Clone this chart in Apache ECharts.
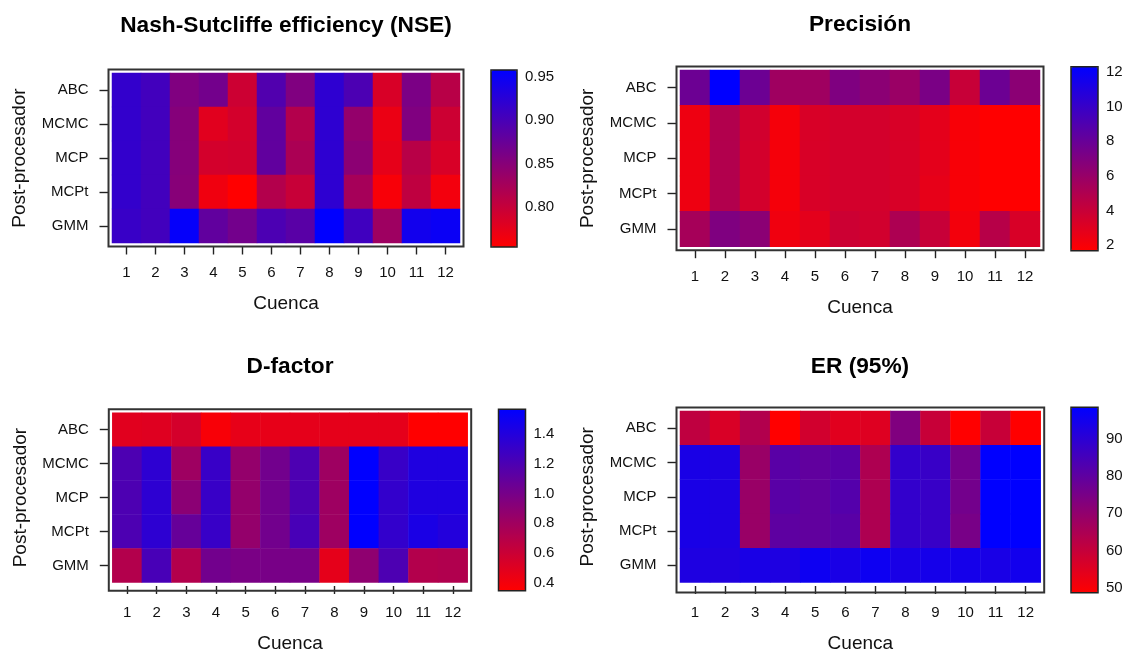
<!DOCTYPE html>
<html><head><meta charset="utf-8">
<script src="https://cdn.jsdelivr.net/npm/echarts@6/dist/echarts.min.js"></script>
<style>html,body{margin:0;padding:0;background:#fff}#c{width:1131px;height:654px}</style>
</head><body><div id="c"></div>
<script>
// ---------- DATA ----------
const cuencas = ['1','2','3','4','5','6','7','8','9','10','11','12'];
const postprocesadores = ['ABC','MCMC','MCP','MCPt','GMM'];
const titulos = ['Nash-Sutcliffe efficiency (NSE)', 'Precisión', 'D-factor', 'ER (95%)'];

// rows: ABC, MCMC, MCP, MCPt, GMM ; columns: cuenca 1..12
const nse = [
  [0.917,0.905,0.856,0.866,0.795,0.893,0.856,0.921,0.897,0.785,0.860,0.811],
  [0.917,0.905,0.852,0.778,0.789,0.880,0.815,0.921,0.840,0.770,0.856,0.795],
  [0.917,0.905,0.852,0.789,0.791,0.880,0.821,0.921,0.846,0.774,0.811,0.785],
  [0.917,0.905,0.850,0.766,0.754,0.815,0.799,0.921,0.825,0.760,0.805,0.764],
  [0.913,0.905,0.954,0.880,0.866,0.897,0.887,0.958,0.907,0.832,0.944,0.950]
];
const precision = [
  [7.8,12.29,7.8,5.7,5.7,7.0,6.5,5.9,7.2,4.0,7.8,6.5],
  [2.4,4.9,3.6,2.1,3.3,3.5,3.5,3.3,2.8,2.0,1.69,1.69],
  [2.4,4.9,3.5,2.1,3.3,3.5,3.5,3.3,2.8,2.0,1.69,1.69],
  [2.4,4.9,3.5,2.1,3.3,3.5,3.5,3.3,2.7,2.0,1.69,1.69],
  [5.4,7.0,6.5,2.3,2.8,3.8,3.6,5.1,4.0,2.2,4.7,3.3]
];
const dfactor = [
  [0.49,0.50,0.55,0.38,0.46,0.46,0.47,0.47,0.47,0.47,0.346,0.346],
  [1.20,1.35,0.81,1.30,0.86,1.02,1.20,0.81,1.566,1.30,1.42,1.42],
  [1.20,1.35,0.90,1.30,0.86,1.02,1.20,0.81,1.566,1.32,1.42,1.42],
  [1.20,1.35,1.08,1.30,0.86,1.02,1.22,0.81,1.566,1.32,1.44,1.40],
  [0.71,1.22,0.71,1.02,0.98,0.99,0.99,0.47,0.88,1.20,0.71,0.72]
];
const er = [
  [61.2,56.2,63.7,48.8,57.7,54.7,55.2,73.5,59.7,48.8,59.7,48.8],
  [93.4,92.4,68.6,81.0,79.5,81.0,64.6,88.4,87.4,76.0,98.3,98.3],
  [93.4,92.4,68.6,81.0,79.5,82.0,64.6,88.4,87.4,76.0,98.3,98.3],
  [93.4,92.4,68.6,80.0,79.5,81.0,64.6,88.4,87.4,75.0,98.3,98.3],
  [92.4,91.9,93.4,92.4,95.8,93.4,95.8,93.4,94.3,94.3,93.4,94.8]
];
const nseTicks = [0.80,0.85,0.90,0.95];
const precisionTicks = [2,4,6,8,10,12];
const dfactorTicks = [0.4,0.6,0.8,1.0,1.2,1.4];
const erTicks = [50,60,70,80,90];

// ---------- LAYOUT ----------
const FONT = 'Liberation Sans, Arial, sans-serif';
const TXT = '#111';
const HIDDEN_LINE = {show: true, lineStyle: {color: 'rgba(0,0,0,0)'}};
const panels = [
  {vals: nse, ticks: nseTicks, dec: 2, cells:{l:112,t:73,w:348,h:170}, pad:3.5, bar:{l:491,t:70,w:26,h:177}, title:{x:286,y:26}},
  {vals: precision, ticks: precisionTicks, dec: 0, cells:{l:680,t:70,w:360,h:176.7}, pad:3.5, bar:{l:1071,t:66.7,w:27,h:184}, title:{x:860,y:25}},
  {vals: dfactor, ticks: dfactorTicks, dec: 1, cells:{l:112.3,t:412.7,w:355.4,h:174.6}, pad:3.5, bar:{l:498.5,t:409.3,w:27,h:181.4}, title:{x:290,y:367}},
  {vals: er, ticks: erTicks, dec: 0, cells:{l:680,t:411,w:360.7,h:178}, pad:3.5, bar:{l:1071,t:407.3,w:27,h:185.4}, title:{x:860,y:367}}
];

const grid = [], xAxis = [], yAxis = [], series = [], visualMap = [], graphic = [];
panels.forEach((p, i) => {
  const flat = p.vals.flat();
  const vmin = Math.min(...flat), vmax = Math.max(...flat);
  const data = [];
  p.vals.forEach((row, r) => row.forEach((v, c) => data.push([c, r, v])));
  const gCell = 2 * i, gBar = 2 * i + 1;
  grid.push({left: p.cells.l, top: p.cells.t, width: p.cells.w, height: p.cells.h});
  grid.push({left: p.bar.l, top: p.bar.t, width: p.bar.w, height: p.bar.h});
  xAxis.push({gridIndex: gCell, type: 'category', data: cuencas, offset: p.pad,
    axisLine: HIDDEN_LINE,
    axisTick: {show: true, inside: false, alignWithLabel: true, length: 8, lineStyle: {color: '#222', width: 1.4}},
    axisLabel: {interval: 0, margin: 19, fontSize: 15, color: TXT, fontFamily: FONT},
    splitLine: {show: false},
    name: 'Cuenca', nameLocation: 'middle', nameGap: 48,
    nameTextStyle: {fontSize: 19, color: TXT, fontFamily: FONT}});
  yAxis.push({gridIndex: gCell, type: 'category', data: postprocesadores, inverse: true, offset: p.pad,
    axisLine: HIDDEN_LINE,
    axisTick: {show: true, inside: false, alignWithLabel: true, length: 9, lineStyle: {color: '#222', width: 1.4}},
    axisLabel: {interval: 0, margin: 20, fontSize: 15, color: TXT, fontFamily: FONT},
    splitLine: {show: false},
    name: 'Post-procesador', nameLocation: 'middle', nameGap: 79, nameRotate: 90,
    nameTextStyle: {fontSize: 19, color: TXT, fontFamily: FONT}});
  xAxis.push({gridIndex: gBar, type: 'value', show: false});
  yAxis.push({gridIndex: gBar, type: 'value', position: 'right', min: vmin, max: vmax,
    axisLine: HIDDEN_LINE, splitLine: {show: false},
    axisTick: {show: true, inside: false, length: 6, customValues: p.ticks, lineStyle: {color: '#222', width: 1.4}},
    axisLabel: {margin: 8, fontSize: 15, color: TXT, fontFamily: FONT, customValues: p.ticks,
      formatter: v => Number(v).toFixed(p.dec)}});
  series.push({type: 'heatmap', xAxisIndex: gCell, yAxisIndex: gCell, data: data,
    itemStyle: {borderWidth: 0}, emphasis: {disabled: true}, silent: true});
  visualMap.push({type: 'continuous', seriesIndex: i, min: vmin, max: vmax,
    inRange: {color: ['#ff0000', '#0000ff']}, calculable: false, hoverLink: false,
    left: p.bar.l, top: p.bar.t, itemWidth: p.bar.w, itemHeight: p.bar.h, padding: 0, text: null});
  graphic.push({type: 'rect', z: 100, silent: true,
    shape: {x: p.cells.l - p.pad, y: p.cells.t - p.pad, width: p.cells.w + 2 * p.pad, height: p.cells.h + 2 * p.pad},
    style: {fill: 'none', stroke: '#333', lineWidth: 2}});
  graphic.push({type: 'rect', z: 100, silent: true,
    shape: {x: p.bar.l, y: p.bar.t, width: p.bar.w, height: p.bar.h},
    style: {fill: 'none', stroke: '#222', lineWidth: 1.5}});
  graphic.push({type: 'text', z: 100, silent: true, x: p.title.x, y: p.title.y,
    style: {text: titulos[i], fontSize: 22.7, fontWeight: 'bold', fontFamily: FONT, fill: '#000',
      align: 'center', verticalAlign: 'middle'}});
});

const chart = echarts.init(document.getElementById('c'));
chart.setOption({animation: false, backgroundColor: '#fff', grid, xAxis, yAxis, series, visualMap, graphic});
</script></body></html>
